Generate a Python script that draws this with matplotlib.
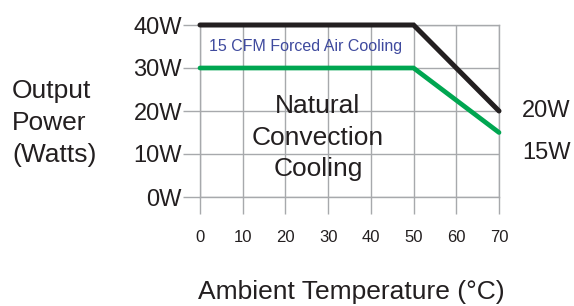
import matplotlib
matplotlib.use('Agg')
from matplotlib import pyplot as plt

# derating curves (ambient temperature in C, output power in W)
temps = [0, 50, 70]
forced_air = [40, 40, 20]
natural = [30, 30, 15]

x_ticks = [0, 10, 20, 30, 40, 50, 60, 70]
y_ticks = [0, 10, 20, 30, 40]
y_tick_labels = ['0W', '10W', '20W', '30W', '40W']

plt.rcParams['font.family'] = ['Liberation Sans', 'DejaVu Sans']

grid_col = '#a7a9ac'
black = '#231f20'
green = '#00a651'
blue = '#3f4a9e'
text_col = '#231f20'

fig = plt.figure(figsize=(5.74, 3.06), dpi=100)
ax = fig.add_axes([200 / 574, 1 - 197 / 306, 299 / 574, 172 / 306])
ax.set_xlim(0, 70)
ax.set_ylim(0, 40)

# grid behind everything, white area under natural convection curve hides it
ax.set_xticks(x_ticks)
ax.set_yticks(y_ticks)
ax.set_yticklabels(y_tick_labels)
ax.grid(True, color=grid_col, linewidth=1.0, zorder=0)
ax.fill_between(temps, natural, 0, color='white', zorder=1, linewidth=0)

for s in ax.spines.values():
  s.set_color(grid_col)
  s.set_linewidth(1.0)
  s.set_zorder(2)

ax.tick_params(axis='both', direction='out', length=12, width=1.0, color=grid_col, labelcolor=text_col)
ax.tick_params(axis='y', labelsize=17, pad=1)
ax.tick_params(axis='x', labelsize=12, pad=12)

ax.plot(temps, natural, color=green, linewidth=3.4, solid_capstyle='round', solid_joinstyle='miter', clip_on=False, zorder=4)
ax.plot(temps, forced_air, color=black, linewidth=3.6, solid_capstyle='round', solid_joinstyle='miter', clip_on=False, zorder=5)

ax.text(2.1, 35.1, '15 CFM Forced Air Cooling', color=blue, fontsize=11.5, ha='left', va='center', zorder=6)
ax.text(27.6, 13.8, 'Natural\nConvection\nCooling', color=text_col, fontsize=19, ha='center', va='center',
        multialignment='center', linespacing=1.4, zorder=6)

# labels outside the axes
fig.text(12 / 574, 1 - 123 / 306, 'Output\nPower\n(Watts)', color=text_col, fontsize=19, ha='left', va='center', linespacing=1.4)
fig.text(522 / 574, 1 - 111 / 306, '20W', color=text_col, fontsize=17, ha='left', va='center')
fig.text(522 / 574, 1 - 153 / 306, '15W', color=text_col, fontsize=17, ha='left', va='center')
fig.text(351 / 574, 1 - 292 / 306, 'Ambient Temperature (°C)', color=text_col, fontsize=19, ha='center', va='center')

fig.savefig('out.png', dpi=100)
